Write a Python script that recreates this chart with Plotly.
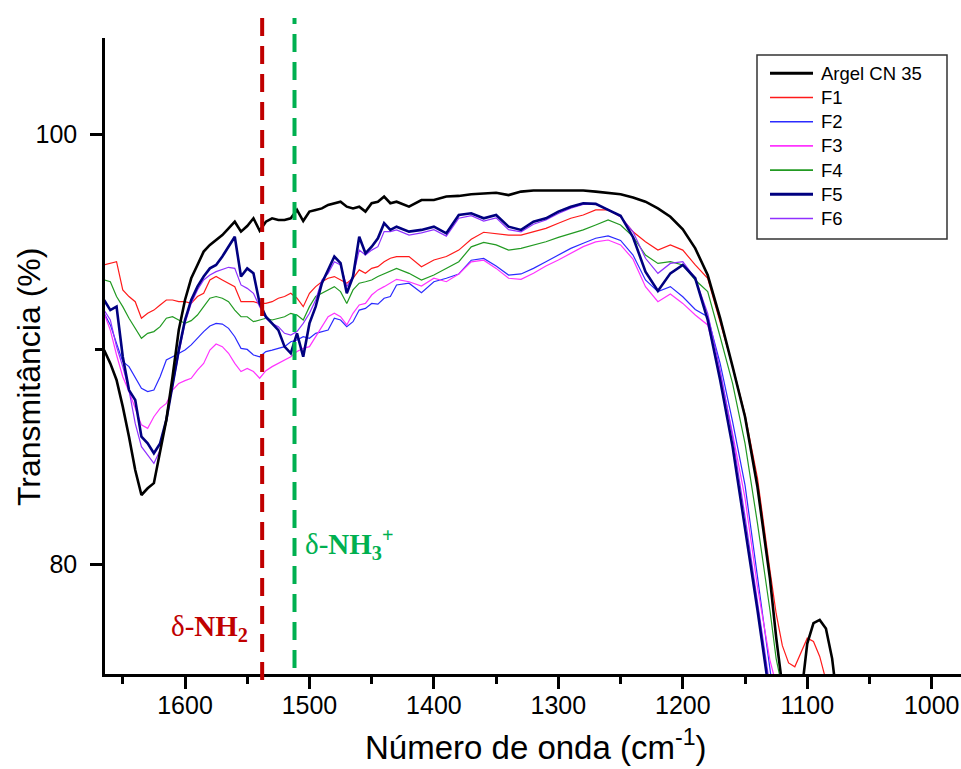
import plotly.graph_objects as go

# ---------------- data ----------------
wavenumber = [
    1665, 1660, 1655, 1650, 1645, 1640, 1635, 1630, 1625, 1620, 1615, 1610, 1605, 1600, 1595, 1590,
    1585, 1580, 1575, 1570, 1565, 1560, 1555, 1550, 1545, 1540, 1535, 1530, 1525, 1520, 1515, 1510,
    1505, 1500, 1495, 1490, 1485, 1480, 1475, 1470, 1465, 1460, 1455, 1450, 1445, 1440, 1435, 1430,
    1420, 1410, 1400, 1390, 1380, 1370, 1360, 1350, 1340, 1330, 1320, 1310, 1300, 1290, 1280, 1270,
    1260, 1250, 1240, 1230, 1220, 1210, 1200, 1190, 1180, 1170, 1160, 1150, 1140, 1130,
    1125, 1120, 1115, 1110, 1105, 1100, 1095, 1090, 1085, 1080, 1075,
]

argel_cn35 = [
    89.95, 89.33, 88.56, 87.32, 85.92, 84.37, 83.21, 83.52, 83.76, 85.15, 86.70, 88.71, 90.88, 92.28, 93.29, 93.91,
    94.53, 94.84, 95.07, 95.30, 95.61, 95.92, 95.46, 95.72, 96.08, 95.50, 95.92, 96.08, 96.00, 96.00, 96.08, 96.47,
    95.95, 96.39, 96.47, 96.54, 96.70, 96.78, 96.85, 96.62, 96.54, 96.62, 96.39, 96.78, 96.85, 97.09, 96.78, 96.85,
    96.62, 96.93, 96.93, 97.09, 97.12, 97.20, 97.24, 97.27, 97.16, 97.32, 97.37, 97.37, 97.38, 97.38, 97.37, 97.32,
    97.27, 97.20, 97.05, 96.85, 96.54, 96.15, 95.57, 94.68, 93.44, 91.44, 89.18, 86.85, 83.58, 79.33,
    76.6, 74.3, 72.0, 70.5, 73.8, 76.3, 77.25, 77.4, 77.0, 75.6, 73.2,
]

f1 = [
    93.91, 93.98, 94.06, 92.75, 92.44, 92.20, 91.43, 91.66, 91.81, 92.05, 92.28, 92.28, 92.20, 92.20, 92.12, 92.44,
    92.59, 93.21, 93.37, 93.21, 93.06, 92.90, 92.20, 92.20, 92.20, 92.12, 92.12, 92.20, 92.36, 92.44, 92.59, 92.36,
    91.97, 92.59, 92.90, 93.13, 93.29, 93.37, 93.21, 93.06, 93.29, 93.68, 93.52, 93.75, 93.83, 94.06, 94.22, 94.30,
    94.30, 93.83, 94.14, 94.30, 94.60, 95.10, 95.43, 95.38, 95.30, 95.30, 95.46, 95.61, 95.85, 96.08, 96.23, 96.47,
    96.47, 96.15, 95.45, 94.99, 94.60, 94.84, 94.60, 93.91, 93.29, 91.30, 89.20, 86.95, 84.00, 79.72,
    77.7, 76.2, 75.4, 75.22, 75.9, 76.55, 76.4, 75.7, 74.6, 73.0, 71.0,
]

f2 = [
    91.66, 91.12, 90.26, 89.41, 89.18, 88.64, 88.17, 88.02, 88.09, 88.71, 89.49, 89.64, 89.80, 89.95, 90.19, 90.50,
    90.81, 91.07, 91.19, 91.16, 90.96, 90.57, 90.03, 89.98, 89.72, 89.64, 89.88, 89.95, 90.03, 90.11, 90.34, 90.42,
    90.57, 90.50, 90.73, 90.81, 90.88, 91.43, 91.35, 91.04, 91.27, 91.81, 91.89, 92.12, 92.09, 92.36, 92.44, 92.98,
    93.06, 92.62, 93.13, 93.29, 93.49, 94.13, 94.21, 93.86, 93.44, 93.49, 93.75, 94.06, 94.37, 94.68, 94.92, 95.15,
    95.26, 95.05, 94.37, 93.21, 92.67, 92.90, 92.43, 91.84, 91.50, 89.33, 86.62, 83.67, 79.41, 75.22,
    73.0, 70.0, 70.0, 70.0, 70.0, 70.0, 70.0, 70.0, 70.0, 70.0, 70.0,
]

f3 = [
    91.66, 90.88, 89.72, 88.71, 88.02, 87.24, 86.47, 86.31, 86.85, 87.24, 87.47, 88.09, 88.40, 88.53, 88.64, 89.02,
    89.33, 89.95, 90.23, 90.11, 89.80, 89.33, 88.95, 89.10, 88.95, 88.64, 88.99, 89.18, 89.33, 89.46, 89.64, 89.88,
    90.03, 90.11, 90.57, 91.04, 91.50, 91.66, 91.50, 91.12, 91.66, 92.05, 92.12, 92.51, 92.75, 92.90, 93.06, 93.24,
    93.13, 92.93, 93.29, 93.13, 93.49, 94.05, 94.13, 93.75, 93.29, 93.24, 93.52, 93.86, 94.14, 94.45, 94.76, 94.98,
    95.07, 94.84, 94.18, 92.90, 92.20, 92.56, 92.12, 91.58, 91.12, 88.87, 86.08, 83.06, 78.94, 75.53,
    74.4, 72.0, 70.0, 70.0, 70.0, 70.0, 70.0, 70.0, 70.0, 70.0, 70.0,
]

f4 = [
    93.21, 93.13, 92.44, 91.97, 91.43, 90.96, 90.50, 90.73, 90.81, 91.04, 91.43, 91.50, 91.35, 91.19, 91.32, 91.58,
    91.97, 92.36, 92.44, 92.36, 92.20, 91.81, 91.50, 91.50, 91.27, 91.35, 91.43, 91.35, 91.43, 91.50, 91.66, 91.58,
    91.35, 91.97, 92.44, 92.59, 92.75, 92.90, 92.67, 92.12, 92.75, 93.06, 93.13, 93.21, 93.37, 93.49, 93.60, 93.75,
    93.52, 93.21, 93.44, 93.75, 94.06, 94.75, 94.96, 94.84, 94.60, 94.68, 94.84, 94.99, 95.19, 95.38, 95.54, 95.77,
    96.00, 95.77, 95.23, 94.37, 93.98, 94.06, 93.91, 93.21, 92.67, 90.57, 88.40, 85.61, 81.89, 77.86,
    75.6, 74.2, 71.0, 70.0, 70.0, 70.0, 70.0, 70.0, 70.0, 70.0, 70.0,
]

f5 = [
    92.28, 91.81, 91.97, 89.64, 88.09, 87.63, 85.92, 85.61, 85.15, 85.61, 86.70, 88.40, 89.95, 91.35, 92.28, 92.90,
    93.37, 93.75, 93.91, 94.30, 94.76, 95.22, 93.37, 93.75, 93.52, 92.12, 91.50, 91.19, 90.88, 90.11, 89.80, 90.73,
    89.64, 91.19, 91.97, 93.06, 93.68, 94.30, 93.99, 92.59, 93.37, 95.22, 94.45, 94.76, 95.15, 95.85, 95.54, 95.69,
    95.46, 95.54, 95.69, 95.38, 96.23, 96.31, 96.08, 96.23, 95.69, 95.54, 95.92, 96.08, 96.39, 96.62, 96.78, 96.75,
    96.47, 96.20, 95.20, 93.60, 92.70, 93.52, 93.91, 93.29, 91.35, 88.56, 85.46, 81.74, 77.86, 73.80,
    70.0, 70.0, 70.0, 70.0, 70.0, 70.0, 70.0, 70.0, 70.0, 70.0, 70.0,
]

f6 = [
    91.81, 91.35, 90.11, 89.18, 88.09, 86.54, 85.46, 85.07, 84.68, 85.30, 86.70, 88.25, 89.80, 91.19, 92.12, 92.75,
    93.21, 93.44, 93.60, 93.71, 93.80, 93.75, 92.98, 92.82, 92.59, 91.97, 91.43, 91.19, 91.04, 90.73, 90.65, 90.81,
    91.19, 91.66, 92.28, 93.21, 93.52, 94.06, 93.91, 92.90, 93.37, 94.60, 94.37, 94.60, 94.76, 95.46, 95.46, 95.54,
    95.30, 95.40, 95.55, 95.25, 96.08, 96.20, 95.95, 96.10, 95.55, 95.45, 95.80, 96.00, 96.30, 96.55, 96.72, 96.72,
    96.50, 96.15, 95.45, 94.22, 93.52, 93.98, 94.06, 93.29, 91.66, 89.02, 85.92, 82.20, 78.33, 74.30,
    70.0, 70.0, 70.0, 70.0, 70.0, 70.0, 70.0, 70.0, 70.0, 70.0, 70.0,
]

series_names = ["Argel CN 35", "F1", "F2", "F3", "F4", "F5", "F6"]
series_values = [argel_cn35, f1, f2, f3, f4, f5, f6]
series_colors = ["#000000", "#FF1A1A", "#2B2BFF", "#FF33FF", "#229A22", "#000080", "#9030FF"]
series_widths = [2.6, 1.2, 1.2, 1.2, 1.2, 2.6, 1.2]

band_positions = [1538, 1512]          # delta-NH2, delta-NH3+
band_labels = ["δ-<b>NH</b><b><sub>2</sub></b>", "δ-<b>NH</b><b><sub>3</sub></b><b><sup>+</sup></b>"]
band_colors = ["#C00000", "#00B050"]

x_ticks = [1600, 1500, 1400, 1300, 1200, 1100, 1000]
y_ticks = [80, 100]

for v in series_values:
    assert len(v) == len(wavenumber)

# ---------------- geometry ----------------
W, H = 961, 769
L, R, T, B = 105, 0, 38, 95
PW, PH = W - L - R, H - T - B


def px(x):
    return (x - L) / PW


def py(y):
    return (H - B - y) / PH


fig = go.Figure()

draw_order = [1, 2, 3, 4, 6, 5, 0]
for i in draw_order:
    fig.add_trace(go.Scatter(
        x=wavenumber, y=series_values[i], mode="lines", name=series_names[i],
        line=dict(color=series_colors[i], width=series_widths[i]),
        showlegend=False, hoverinfo="x+y+name",
    ))

shapes = []
annotations = []

# dashed band markers
band_y0 = [py(680), py(668)]
for k, (pos, col) in enumerate(zip(band_positions, band_colors)):
    shapes.append(dict(type="line", xref="x", yref="paper", x0=pos, x1=pos,
                       y0=band_y0[k], y1=py(18), layer="above",
                       line=dict(color=col, width=4, dash="18px,10px")))

serif = "Liberation Serif, Times New Roman, serif"
annotations.append(dict(xref="paper", yref="paper", x=px(250), y=py(628), xanchor="right", yanchor="middle",
                        text=band_labels[0], showarrow=False,
                        font=dict(family=serif, size=29, color=band_colors[0])))
annotations.append(dict(xref="paper", yref="paper", x=px(303), y=py(544), xanchor="left", yanchor="middle",
                        text=band_labels[1], showarrow=False,
                        font=dict(family=serif, size=29, color=band_colors[1])))

# custom legend box
shapes.append(dict(type="rect", xref="paper", yref="paper", x0=px(757), x1=px(947), y0=py(239), y1=py(55),
                   line=dict(color="#333333", width=1.5), fillcolor="rgba(255,255,255,0)", layer="above"))
leg_y = [73.3, 97.5, 121.7, 145.9, 170.1, 194.3, 218.5]
for i, name in enumerate(series_names):
    shapes.append(dict(type="line", xref="paper", yref="paper", x0=px(770), x1=px(813),
                       y0=py(leg_y[i]), y1=py(leg_y[i]), layer="above",
                       line=dict(color=series_colors[i], width=series_widths[i] + 0.4)))
    annotations.append(dict(xref="paper", yref="paper", x=px(819), y=py(leg_y[i]), xanchor="left",
                            yanchor="middle", text=name, showarrow=False,
                            font=dict(family="Liberation Sans, Arial, sans-serif", size=18.5, color="#000000")))

# axis titles
annotations.append(dict(xref="paper", yref="paper", x=px(536), y=py(768), xanchor="center", yanchor="bottom",
                        text="Número de onda (cm<sup>-1</sup>)", showarrow=False,
                        font=dict(family="Liberation Sans, Arial, sans-serif", size=33, color="#000000")))
annotations.append(dict(xref="paper", yref="paper", x=px(29), y=py(377), xanchor="center", yanchor="middle",
                        text="Transmitância (%)", textangle=-90, showarrow=False,
                        font=dict(family="Liberation Sans, Arial, sans-serif", size=32, color="#000000")))

tick_font = dict(family="Liberation Sans, Arial, sans-serif", size=25, color="#000000")

fig.update_layout(
    width=W, height=H,
    margin=dict(l=L, r=R, t=T, b=B, pad=0),
    paper_bgcolor="white", plot_bgcolor="white",
    showlegend=False,
    shapes=shapes, annotations=annotations,
    xaxis=dict(range=[1664.28, 976.46], tickmode="array", tickvals=x_ticks,
               ticktext=[str(t) for t in x_ticks],
               showline=True, linecolor="black", linewidth=2.5, mirror=False,
               ticks="outside", ticklen=12, tickwidth=2.5, tickcolor="black",
               minor=dict(dtick=50, tick0=1000, ticks="outside", ticklen=7, tickwidth=2.5, tickcolor="black"),
               showgrid=False, zeroline=False, tickfont=tick_font, ticklabelstandoff=-5),
    yaxis=dict(range=[74.884, 104.465], tickmode="array", tickvals=y_ticks,
               ticktext=[str(t) for t in y_ticks],
               showline=True, linecolor="black", linewidth=2.5, mirror=False,
               ticks="outside", ticklen=12, tickwidth=2.5, tickcolor="black",
               minor=dict(tickvals=[90], ticks="outside", ticklen=7, tickwidth=2.5, tickcolor="black"),
               showgrid=False, zeroline=False, tickfont=tick_font, ticklabelstandoff=8),
)

fig.write_html("out.html")
